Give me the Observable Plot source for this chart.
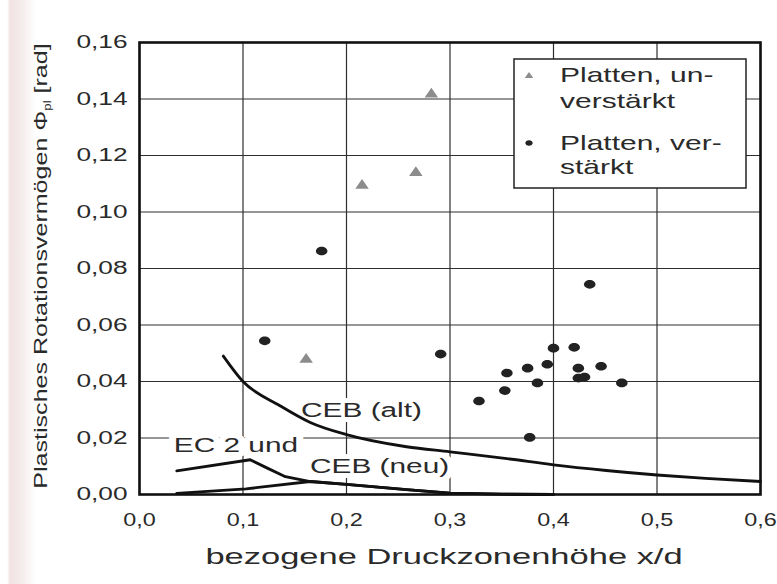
<!DOCTYPE html>
<html><head><meta charset="utf-8">
<script src="https://cdn.jsdelivr.net/npm/d3@7"></script>
<script src="https://cdn.jsdelivr.net/npm/@observablehq/plot@0.6"></script>
<style>
html,body{margin:0;padding:0;}
body{width:777px;height:584px;overflow:hidden;background:linear-gradient(to right,#fff 0,#fff 7px,#f1e3e3 10px,#f5ecec 22px,#fff 36px);}
#chart{position:relative;width:777px;height:584px;}
svg{display:block;font-family:"Liberation Sans",Arial,sans-serif;}
</style></head><body><div id="chart"></div>
<script>
// ---- data ----
const xTicks = [0, 0.1, 0.2, 0.3, 0.4, 0.5, 0.6];
const yTicks = [0, 0.02, 0.04, 0.06, 0.08, 0.10, 0.12, 0.14, 0.16];

// Platten, unverstärkt (triangles)
const unX = [0.161, 0.215, 0.267, 0.282];
const unY = [0.0478, 0.1094, 0.1139, 0.1417];

// Platten, verstärkt (circles)
const verX = [0.121, 0.176, 0.291, 0.328, 0.353, 0.355, 0.375, 0.377, 0.3845, 0.394, 0.400, 0.420, 0.424, 0.424, 0.430, 0.435, 0.446, 0.466];
const verY = [0.0544, 0.0862, 0.0497, 0.0331, 0.0368, 0.0430, 0.0447, 0.0202, 0.0395, 0.0461, 0.0518, 0.0521, 0.0447, 0.0412, 0.0416, 0.0744, 0.0454, 0.0395];

// CEB (alt)
const cebAltX = [0.081, 0.1, 0.135, 0.165, 0.2, 0.258, 0.3, 0.355, 0.4, 0.451, 0.5, 0.547, 0.6];
const cebAltY = [0.049, 0.040, 0.0316, 0.0255, 0.0212, 0.0169, 0.0151, 0.0127, 0.0105, 0.0085, 0.0069, 0.0057, 0.0046];

// EC 2 (upper branch) and CEB (neu) (lower branch), common tail
const ec2X = [0.036, 0.107, 0.122, 0.141, 0.165];
const ec2Y = [0.0084, 0.0123, 0.0096, 0.0063, 0.0046];
const cebNeuX = [0.036, 0.103, 0.165];
const cebNeuY = [0.0004, 0.0020, 0.0046];
const tailX = [0.2, 0.258, 0.3, 0.35, 0.4];
const tailY = [0.0036, 0.0017, 0.0005, 0.0001, 0];

// curve annotations
const noteText = ["CEB (alt)", "EC 2 und", "CEB (neu)"];
const noteX = [0.2145, 0.0932, 0.232];
const noteY = [0.0298, 0.0176, 0.0099];

// ---- helpers ----
const pts = (xs, ys) => xs.map((x, i) => ({x, y: ys[i]}));
const ellipse = {draw(ctx, size) {
  const r = Math.sqrt(size / Math.PI), rx = r * 1.15, ry = r * 0.87, k = 0.5523;
  ctx.moveTo(rx, 0);
  ctx.bezierCurveTo(rx, ry * k, rx * k, ry, 0, ry);
  ctx.bezierCurveTo(-rx * k, ry, -rx, ry * k, -rx, 0);
  ctx.bezierCurveTo(-rx, -ry * k, -rx * k, -ry, 0, -ry);
  ctx.bezierCurveTo(rx * k, -ry, rx, -ry * k, rx, 0);
  ctx.closePath();
}};
const wideTri = {draw(ctx, size) {
  const r = Math.sqrt(size / Math.PI), w = 2.6 * r, h = 1.85 * r;
  ctx.moveTo(0, -h * 2 / 3);
  ctx.lineTo(w / 2, h / 3);
  ctx.lineTo(-w / 2, h / 3);
  ctx.closePath();
}};
const fmtX = d => d.toFixed(1).replace(".", ",");
const fmtY = d => d.toFixed(2).replace(".", ",");

const plot = Plot.plot({
  width: 777, height: 584,
  marginLeft: 139, marginRight: 17, marginTop: 42, marginBottom: 90,
  style: {background: "transparent", color: "#2a2a2a", fontFamily: "'Liberation Sans', Arial, sans-serif", overflow: "visible"},
  x: {domain: [0, 0.6], label: null},
  y: {domain: [0, 0.16], label: null},
  marks: [
    Plot.frame({fill: "white", stroke: null}),
    Plot.gridX(xTicks, {stroke: "#2e2e2e", strokeOpacity: 1, strokeWidth: 1.2}),
    Plot.gridY(yTicks, {stroke: "#2e2e2e", strokeOpacity: 1, strokeWidth: 1.2}),
    Plot.text(pts(noteX, noteY).map((d, i) => ({...d, t: noteText[i]})), {
      x: "x", y: "y", text: "t", fontSize: 21, fill: "#2a2a2a",
      stroke: "white", strokeWidth: 10, paintOrder: "stroke", textAnchor: "middle"
    }),
    Plot.line(pts(cebAltX, cebAltY), {x: "x", y: "y", stroke: "#111", strokeWidth: 2.8, curve: "monotone-x"}),
    Plot.line(pts(ec2X.concat(tailX), ec2Y.concat(tailY)), {x: "x", y: "y", stroke: "#111", strokeWidth: 2.8}),
    Plot.line(pts(cebNeuX.concat(tailX), cebNeuY.concat(tailY)), {x: "x", y: "y", stroke: "#111", strokeWidth: 2.8}),
    Plot.dot(pts(unX, unY), {x: "x", y: "y", symbol: wideTri, r: 5.2, fill: "#8c8c8c", stroke: "none"}),
    Plot.dot(pts(verX, verY), {x: "x", y: "y", symbol: ellipse, r: 5, fill: "#222", stroke: "none"}),
    Plot.frame({stroke: "#111", strokeWidth: 2.6}),
    Plot.axisX(xTicks, {tickSize: 0, tickPadding: 19, tickFormat: fmtX, fontSize: 18, label: null}),
    Plot.axisY(yTicks, {tickSize: 0, tickPadding: 12, tickFormat: fmtY, fontSize: 18.5, label: null})
  ]
});

document.getElementById("chart").appendChild(plot);
const svg = plot.tagName.toLowerCase() === "svg" ? plot : plot.querySelector("svg");

// horizontal stretch of the printed font
svg.querySelectorAll("text").forEach(t => {
  const tr = t.getAttribute("transform") || "";
  const isX = t.closest('g[aria-label="x-axis tick label"]');
  t.setAttribute("transform", tr + (isX ? " scale(1.3,1)" : " scale(1.42,1)"));
});

const s = d3.select(svg);
// x axis title
s.append("text")
  .attr("transform", "translate(444,564) scale(1.5,1)")
  .attr("text-anchor", "middle").attr("font-size", 23).attr("fill", "#2a2a2a")
  .text("bezogene Druckzonenhöhe x/d");
// y axis title with subscript
const yt = s.append("text")
  .attr("transform", "translate(47,266) rotate(-90) scale(1.32,1)")
  .attr("text-anchor", "middle").attr("font-size", 19).attr("fill", "#2a2a2a");
yt.append("tspan").text("Plastisches Rotationsvermögen Φ");
yt.append("tspan").attr("font-size", 10).attr("dy", 4).text("pl");
yt.append("tspan").attr("dy", -4).text(" [rad]");

// legend
const lg = s.append("g");
lg.append("rect").attr("x", 514).attr("y", 59).attr("width", 232).attr("height", 129)
  .attr("fill", "white").attr("stroke", "#222").attr("stroke-width", 1.5);
lg.append("path").attr("transform", "translate(529,76)")
  .attr("d", d3.symbol().type(wideTri).size(Math.PI * 3.3 * 3.3)()).attr("fill", "#8c8c8c");
lg.append("path").attr("transform", "translate(529,143)")
  .attr("d", d3.symbol().type(ellipse).size(Math.PI * 3.2 * 3.2)()).attr("fill", "#222");
const legendLines = [["Platten, un-", 82], ["verstärkt", 108], ["Platten, ver-", 150], ["stärkt", 174]];
legendLines.forEach(([txt, yb]) => {
  lg.append("text").attr("transform", `translate(560,${yb}) scale(1.5,1)`)
    .attr("text-anchor", "start")
    .attr("font-size", 20).attr("fill", "#2a2a2a").text(txt);
});
</script>
</body></html>
